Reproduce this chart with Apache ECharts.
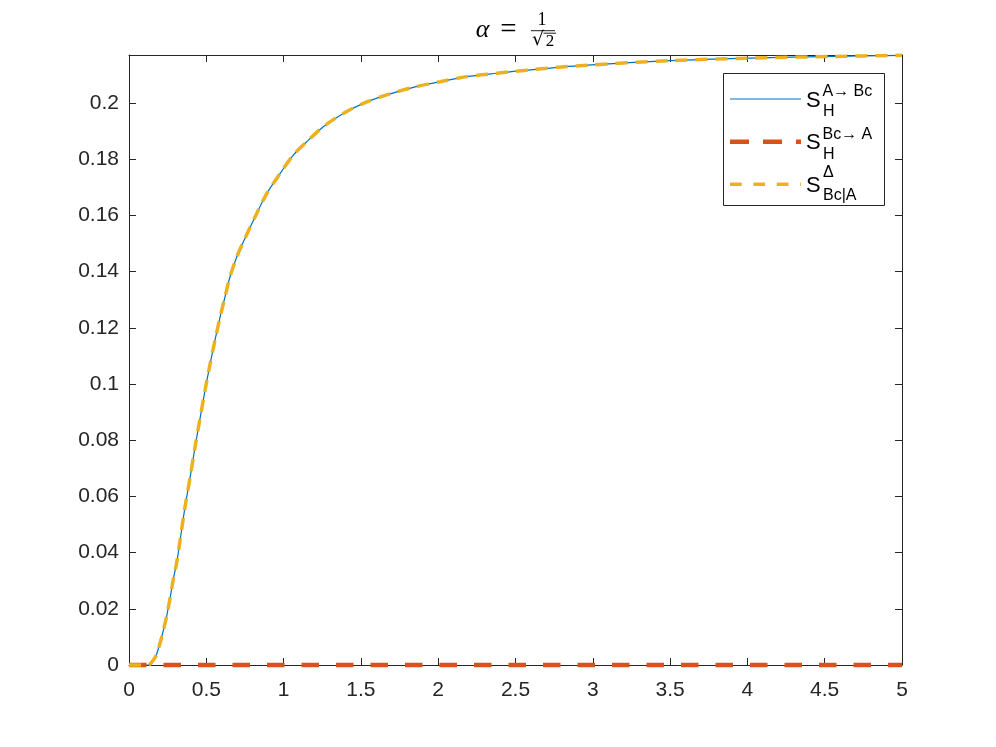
<!DOCTYPE html>
<html><head><meta charset="utf-8">
<script src="https://cdn.jsdelivr.net/npm/echarts@6/dist/echarts.min.js"></script>
<style>html,body{margin:0;padding:0;background:#fff}#c{width:996px;height:747px}</style>
</head><body><div id="c"></div>
<script>
// time axis values (x)
const xValues = [0, 0.05, 0.1, 0.125, 0.147, 0.168, 0.179, 0.211, 0.244, 0.265, 0.287, 0.309, 0.33, 0.362, 0.399, 0.427, 0.459, 0.492, 0.524, 0.556, 0.589, 0.621, 0.653, 0.697, 0.75, 0.826, 0.891, 0.977, 1.063, 1.16, 1.257, 1.386, 1.516, 1.667, 1.839, 2.012, 2.184, 2.378, 2.572, 2.94, 3.5, 4.02, 4.56, 5.0];
// S_H^{A->Bc}
const sHAtoBc = [0, 0, 0, 0, 0.001, 0.0026, 0.0039, 0.0098, 0.0175, 0.0236, 0.0306, 0.0366, 0.0442, 0.0561, 0.068, 0.0775, 0.0876, 0.0978, 0.107, 0.1155, 0.1238, 0.131, 0.1381, 0.1452, 0.1518, 0.1607, 0.1678, 0.1749, 0.1815, 0.1868, 0.1916, 0.1963, 0.1999, 0.2029, 0.2056, 0.2076, 0.2094, 0.2106, 0.2117, 0.2134, 0.2151, 0.216, 0.2166, 0.217];
// S_H^{Bc->A}
const xRed = [0, 1, 2, 3, 4, 5];
const sHBctoA = [0, 0, 0, 0, 0, 0];
// S^Delta_{Bc|A}
const sDeltaBcA = [0, 0, 0, 0, 0.001, 0.0026, 0.0039, 0.0098, 0.0175, 0.0236, 0.0306, 0.0366, 0.0442, 0.0561, 0.068, 0.0775, 0.0876, 0.0978, 0.107, 0.1155, 0.1238, 0.131, 0.1381, 0.1452, 0.1518, 0.1607, 0.1678, 0.1749, 0.1815, 0.1868, 0.1916, 0.1963, 0.1999, 0.2029, 0.2056, 0.2076, 0.2094, 0.2106, 0.2117, 0.2134, 0.2151, 0.216, 0.2166, 0.217];
const xTickStep = 0.5;
const yTickStep = 0.02;
const xMin = 0, xMax = 5;
const yMin = 0, yMax = 0.2171;

const zip = (xs, ys) => xs.map((x, i) => [x, ys[i]]);
const AX = '#262626';
const tickFont = 'Liberation Sans, Arial, Helvetica, sans-serif';

function onStep(v, step) { return Math.abs(v / step - Math.round(v / step)) < 1e-6; }

const chart = echarts.init(document.getElementById('c'), null, {renderer: 'canvas'});
const baseAxis = {
  type: 'value',
  axisLine: {show: true, onZero: false, lineStyle: {color: AX, width: 1}},
  axisTick: {show: true, inside: true, length: 7, lineStyle: {color: AX, width: 1}},
  splitLine: {show: false}
};
chart.setOption({
  animation: false,
  backgroundColor: '#fff',
  grid: {left: 129, right: 94, top: 55, bottom: 82, containLabel: false},
  xAxis: [
    Object.assign({}, baseAxis, {position: 'bottom', min: xMin, max: xMax, interval: xTickStep,
      axisLabel: {color: AX, fontSize: 21, fontFamily: tickFont, margin: 15,
        formatter: v => onStep(v, xTickStep) ? String(+v.toFixed(4)) : ''}}),
    Object.assign({}, baseAxis, {position: 'top', min: xMin, max: xMax, interval: xTickStep,
      axisLabel: {show: false}})
  ],
  yAxis: [
    Object.assign({}, baseAxis, {position: 'left', min: yMin, max: yMax, interval: yTickStep,
      axisLabel: {color: AX, fontSize: 21, fontFamily: tickFont, margin: 10,
        formatter: v => onStep(v, yTickStep) ? String(+v.toFixed(4)) : ''}}),
    Object.assign({}, baseAxis, {position: 'right', min: yMin, max: yMax, interval: yTickStep,
      axisLabel: {show: false}})
  ],
  series: [
    {name: 'S_H^{A→Bc}', type: 'line', data: zip(xValues, sHAtoBc), showSymbol: false, clip: false,
      smooth: 0.3, z: 2,
      lineStyle: {color: '#0072BD', width: 1.2}},
    {name: 'S_H^{Bc→A}', type: 'line', data: zip(xRed, sHBctoA), showSymbol: false, clip: false, z: 3,
      lineStyle: {color: '#D95319', width: 4.5, type: [17.5, 17], cap: 'butt'}},
    {name: 'S^Δ_{Bc|A}', type: 'line', data: zip(xValues, sDeltaBcA), showSymbol: false, clip: false,
      smooth: 0.3, z: 4,
      lineStyle: {color: '#EDB120', width: 3.5, type: [12, 8], cap: 'butt'}}
  ],
  graphic: [
    // title  alpha = 1/sqrt(2)
    {type: 'text', x: 482.5, y: 30, z: 10, style: {text: 'α', font: 'italic 26px "Liberation Serif", serif', fill: '#000', align: 'center', verticalAlign: 'middle'}},
    {type: 'text', x: 508.5, y: 30.5, z: 10, style: {text: '=', font: '29px "Liberation Serif", serif', fill: '#000', align: 'center', verticalAlign: 'middle'}},
    {type: 'text', x: 542, y: 20.5, z: 10, style: {text: '1', font: '18px "Liberation Serif", serif', fill: '#000', align: 'center', verticalAlign: 'middle'}},
    {type: 'line', z: 10, shape: {x1: 531, y1: 30.7, x2: 555, y2: 30.7}, style: {stroke: '#000', lineWidth: 0.9}},
    {type: 'text', x: 538, y: 40, z: 10, style: {text: '√', font: '19px "DejaVu Serif", serif', fill: '#000', align: 'center', verticalAlign: 'middle'}},
    {type: 'line', z: 10, shape: {x1: 543.5, y1: 33.2, x2: 556, y2: 33.2}, style: {stroke: '#000', lineWidth: 0.9}},
    {type: 'text', x: 550, y: 41.5, z: 10, style: {text: '2', font: '17px "Liberation Serif", serif', fill: '#000', align: 'center', verticalAlign: 'middle'}},
    // legend box
    {type: 'rect', z: 20, shape: {x: 723.5, y: 73.5, width: 161, height: 132}, style: {fill: '#fff', stroke: AX, lineWidth: 1}},
    {type: 'line', z: 21, shape: {x1: 730, y1: 99, x2: 801, y2: 99}, style: {stroke: '#0072BD', lineWidth: 1.2}},
    {type: 'line', z: 21, shape: {x1: 730, y1: 141.7, x2: 801, y2: 141.7}, style: {stroke: '#D95319', lineWidth: 4.5, lineDash: [19, 14]}},
    {type: 'line', z: 21, shape: {x1: 730, y1: 184.3, x2: 801, y2: 184.3}, style: {stroke: '#EDB120', lineWidth: 3.5, lineDash: [11.7, 11.7]}},
    {type: 'text', z: 21, x: 806, y: 100.5, style: {text: 'S', font: '22px "Liberation Sans", Arial, sans-serif', fill: '#000', verticalAlign: 'middle'}},
    {type: 'text', z: 21, x: 822.5, y: 92, style: {text: 'A→ Bc', font: '16px "Liberation Sans", Arial, sans-serif', fill: '#000', verticalAlign: 'middle'}},
    {type: 'text', z: 21, x: 823, y: 111.8, style: {text: 'H', font: '16px "Liberation Sans", Arial, sans-serif', fill: '#000', verticalAlign: 'middle'}},
    {type: 'text', z: 21, x: 806, y: 143, style: {text: 'S', font: '22px "Liberation Sans", Arial, sans-serif', fill: '#000', verticalAlign: 'middle'}},
    {type: 'text', z: 21, x: 822.5, y: 135, style: {text: 'Bc→ A', font: '16px "Liberation Sans", Arial, sans-serif', fill: '#000', verticalAlign: 'middle'}},
    {type: 'text', z: 21, x: 823, y: 154.6, style: {text: 'H', font: '16px "Liberation Sans", Arial, sans-serif', fill: '#000', verticalAlign: 'middle'}},
    {type: 'text', z: 21, x: 806, y: 185.7, style: {text: 'S', font: '22px "Liberation Sans", Arial, sans-serif', fill: '#000', verticalAlign: 'middle'}},
    {type: 'text', z: 21, x: 823, y: 172.7, style: {text: 'Δ', font: '16px "Liberation Sans", Arial, sans-serif', fill: '#000', verticalAlign: 'middle'}},
    {type: 'text', z: 21, x: 823, y: 195.4, style: {text: 'Bc|A', font: '16px "Liberation Sans", Arial, sans-serif', fill: '#000', verticalAlign: 'middle'}}
  ]
});
</script></body></html>
